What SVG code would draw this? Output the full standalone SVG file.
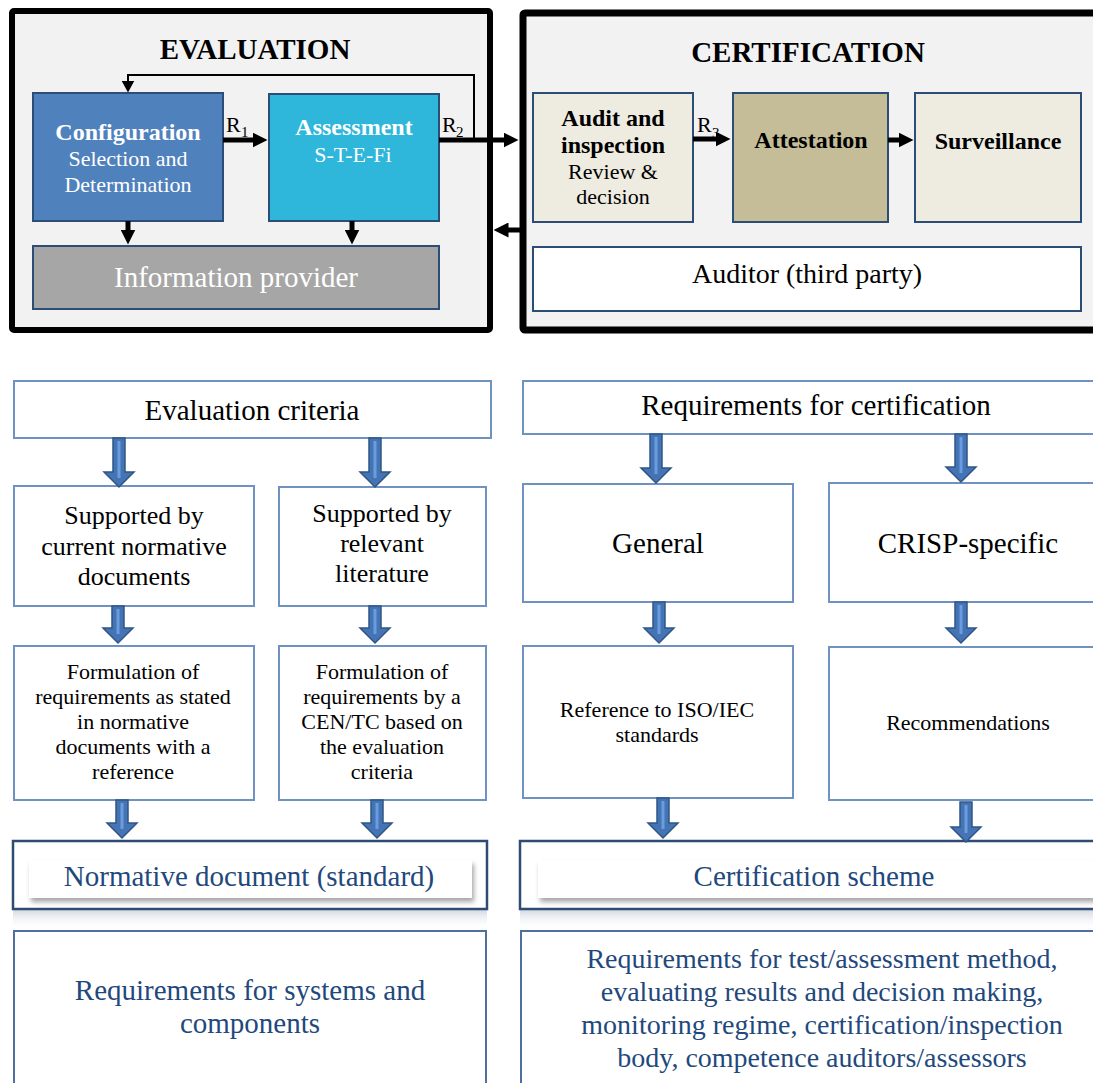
<svg xmlns="http://www.w3.org/2000/svg" width="1093" height="1083" viewBox="0 0 1093 1083">
<defs>
<style>
text{font-family:"Liberation Serif","Times New Roman",serif;text-anchor:middle}
.title{font-size:29px;font-weight:bold;fill:#000}
.bw{font-size:24px;font-weight:bold;fill:#fff}
.rw{font-size:22px;fill:#fff}
.bk{font-size:24px;font-weight:bold;fill:#000}
.rk{font-size:22px;fill:#000}
.big{font-size:29px;fill:#000}
.mid{font-size:26px;fill:#000}
.blue{font-size:29px;fill:#1f497d}
.rl{font-size:22px;fill:#000;text-anchor:start}
.sub{font-size:15px;fill:#000;text-anchor:start}
.outer{fill:#f2f2f2;stroke:#000}
.node{stroke:#2c4d75;stroke-width:2}
.lbox{fill:#fff;stroke:#7092c2;stroke-width:2}
.frame{fill:#fff;stroke:#2d4b73;stroke-width:2.5}
.panel{fill:#fff;filter:url(#sh)}
.thick{stroke:#000;stroke-width:5;fill:none}
.thin{stroke:#000;stroke-width:2;fill:none}
.barrow{fill:#4574b4;stroke:#2f5587;stroke-width:1.5}
.stripe{stroke:#6a9de0;stroke-width:3}
</style>
<marker id="ah" markerUnits="userSpaceOnUse" markerWidth="15" markerHeight="15" viewBox="0 0 15 15" refX="0.5" refY="7.5" orient="auto"><path d="M0,0 L15,7.5 L0,15 Z" fill="#000"/></marker>
<marker id="ahs" markerUnits="userSpaceOnUse" markerWidth="12" markerHeight="13" viewBox="0 0 12 13" refX="0.5" refY="6.5" orient="auto"><path d="M0,0 L12,6.5 L0,13 Z" fill="#000"/></marker>
<filter id="sh" x="-5%" y="-40%" width="110%" height="200%"><feDropShadow dx="2" dy="4" stdDeviation="2.5" flood-color="#000" flood-opacity="0.35"/></filter>
<linearGradient id="fade" x1="0" y1="0" x2="0" y2="1"><stop offset="0" stop-color="#cfd5de" stop-opacity="0.9"/><stop offset="1" stop-color="#ffffff" stop-opacity="0"/></linearGradient>
</defs>

<g id="evaluation">
<rect class="outer" x="12" y="11" width="478" height="319" stroke-width="6" rx="2"/>
<text class="title" x="255" y="59">EVALUATION</text>
</g>
<g id="certification">
<rect class="outer" x="523" y="13" width="600" height="317" stroke-width="7" rx="2"/>
<text class="title" x="808" y="62">CERTIFICATION</text>
</g>

<g id="configuration">
<rect class="node" x="33" y="93" width="190" height="128" fill="#4f81bd"/>
<text class="bw" x="128" y="140">Configuration</text>
<text class="rw" x="128" y="166">Selection and</text>
<text class="rw" x="128" y="192">Determination</text>
</g>
<g id="assessment">
<rect class="node" x="269" y="94" width="170" height="127" fill="#2eb6db"/>
<text class="bw" x="354" y="135">Assessment</text>
<text class="rw" x="353" y="162">S-T-E-Fi</text>
</g>
<g id="information-provider">
<rect class="node" x="33" y="246" width="406" height="63" fill="#a6a6a6"/>
<text class="blue" x="236" y="287" style="fill:#fff">Information provider</text>
</g>
<g id="audit">
<rect class="node" x="533" y="93" width="160" height="129" fill="#eeece1"/>
<text class="bk" x="613" y="126">Audit and</text>
<text class="bk" x="613" y="153">inspection</text>
<text class="rk" x="613" y="179">Review &amp;</text>
<text class="rk" x="613" y="204">decision</text>
</g>
<g id="attestation">
<rect class="node" x="733" y="93" width="155" height="129" fill="#c4bd97"/>
<text class="bk" x="811" y="148">Attestation</text>
</g>
<g id="surveillance">
<rect class="node" x="915" y="93" width="166" height="129" fill="#eeece1"/>
<text class="bk" x="998" y="149">Surveillance</text>
</g>
<g id="auditor">
<rect class="node" x="533" y="247" width="548" height="64" fill="#fff"/>
<text class="big" x="807" y="283" style="font-size:28px">Auditor (third party)</text>
</g>

<g id="evaluation-criteria">
<rect class="lbox" x="14" y="381" width="477" height="57"/>
<text class="big" x="252" y="420">Evaluation criteria</text>
</g>
<g id="requirements-certification">
<rect class="lbox" x="523" y="381" width="580" height="53"/>
<text class="big" x="816" y="415">Requirements for certification</text>
</g>
<g id="supported-normative">
<rect class="lbox" x="14" y="486" width="240" height="120"/>
<text class="mid" x="134" y="524">Supported by</text>
<text class="mid" x="134" y="555">current normative</text>
<text class="mid" x="134" y="585">documents</text>
</g>
<g id="supported-literature">
<rect class="lbox" x="279" y="487" width="207" height="119"/>
<text class="mid" x="382" y="522">Supported by</text>
<text class="mid" x="382" y="552">relevant</text>
<text class="mid" x="382" y="582">literature</text>
</g>
<g id="general">
<rect class="lbox" x="523" y="484" width="270" height="118"/>
<text class="big" x="658" y="553">General</text>
</g>
<g id="crisp-specific">
<rect class="lbox" x="829" y="483" width="280" height="119"/>
<text class="big" x="968" y="553">CRISP-specific</text>
</g>
<g id="formulation-normative">
<rect class="lbox" x="14" y="646" width="240" height="154"/>
<text class="rk" x="133" y="679">Formulation of</text>
<text class="rk" x="133" y="704">requirements as stated</text>
<text class="rk" x="133" y="729">in normative</text>
<text class="rk" x="133" y="754">documents with a</text>
<text class="rk" x="133" y="779">reference</text>
</g>
<g id="formulation-cen">
<rect class="lbox" x="279" y="646" width="207" height="154"/>
<text class="rk" x="382" y="679">Formulation of</text>
<text class="rk" x="382" y="704">requirements by a</text>
<text class="rk" x="382" y="729">CEN/TC based on</text>
<text class="rk" x="382" y="754">the evaluation</text>
<text class="rk" x="382" y="779">criteria</text>
</g>
<g id="reference-iso">
<rect class="lbox" x="523" y="646" width="270" height="152"/>
<text class="rk" x="657" y="717">Reference to ISO/IEC</text>
<text class="rk" x="657" y="742">standards</text>
</g>
<g id="recommendations">
<rect class="lbox" x="829" y="647" width="280" height="153"/>
<text class="rk" x="968" y="730">Recommendations</text>
</g>
<g id="normative-document">
<rect x="13" y="910" width="474" height="20" fill="url(#fade)"/>
<rect class="frame" x="13" y="841" width="474" height="68"/>
<rect class="panel" x="29" y="860" width="443" height="38"/>
<text class="blue" x="249" y="886">Normative document (standard)</text>
</g>
<g id="certification-scheme">
<rect x="520" y="910" width="590" height="20" fill="url(#fade)"/>
<rect class="frame" x="520" y="841" width="590" height="68"/>
<rect class="panel" x="538" y="860" width="580" height="38"/>
<text class="blue" x="814" y="886">Certification scheme</text>
</g>
<g id="requirements-systems">
<rect class="lbox" x="14" y="931" width="472" height="170" style="stroke:#4f6f9f"/>
<text class="blue" x="250" y="1000">Requirements for systems and</text>
<text class="blue" x="250" y="1033">components</text>
</g>
<g id="requirements-test">
<rect class="lbox" x="521" y="931" width="590" height="170" style="stroke:#4f6f9f"/>
<text class="blue" x="822" y="968" style="font-size:28px">Requirements for test/assessment method,</text>
<text class="blue" x="822" y="1001" style="font-size:28px">evaluating results and decision making,</text>
<text class="blue" x="822" y="1034" style="font-size:28px">monitoring regime, certification/inspection</text>
<text class="blue" x="822" y="1067" style="font-size:28px">body, competence auditors/assessors</text>
</g>

<g id="connectors">
<line class="thick" x1="223" y1="140" x2="253" y2="140" marker-end="url(#ah)"/>
<text class="rl" x="226" y="132">R</text><text class="sub" x="241" y="137">1</text>
<line class="thick" x1="439" y1="140" x2="504" y2="140" marker-end="url(#ah)"/>
<text class="rl" x="442" y="132">R</text><text class="sub" x="456" y="137">2</text>
<polyline class="thin" points="474,140 474,75 128,75 128,81" marker-end="url(#ahs)"/>
<line class="thick" x1="128" y1="221" x2="128" y2="230" marker-end="url(#ah)"/>
<line class="thick" x1="352" y1="221" x2="352" y2="230" marker-end="url(#ah)"/>
<line class="thick" x1="521" y1="230" x2="508" y2="230" marker-end="url(#ah)"/>
<line class="thick" x1="693" y1="139" x2="716" y2="139" marker-end="url(#ah)"/>
<text class="rl" x="697" y="132">R</text><text class="sub" x="712" y="138">3</text>
<line class="thick" x1="888" y1="140" x2="899" y2="140" marker-end="url(#ah)"/>

<path class="barrow" d="M113,438 H125 V472 H134 L119,487 L104,472 H113 Z"/><line class="stripe" x1="119" y1="441" x2="119" y2="478"/>
<path class="barrow" d="M369,438 H381 V472 H390 L375,487 L360,472 H369 Z"/><line class="stripe" x1="375" y1="441" x2="375" y2="478"/>
<path class="barrow" d="M650,434 H662 V468 H671 L656,483 L641,468 H650 Z"/><line class="stripe" x1="656" y1="437" x2="656" y2="474"/>
<path class="barrow" d="M955,434 H967 V467 H976 L961,482 L946,467 H955 Z"/><line class="stripe" x1="961" y1="437" x2="961" y2="473"/>
<path class="barrow" d="M112,606 H124 V628 H133 L118,643 L103,628 H112 Z"/><line class="stripe" x1="118" y1="609" x2="118" y2="634"/>
<path class="barrow" d="M369,606 H381 V628 H390 L375,643 L360,628 H369 Z"/><line class="stripe" x1="375" y1="609" x2="375" y2="634"/>
<path class="barrow" d="M653,602 H665 V628 H674 L659,643 L644,628 H653 Z"/><line class="stripe" x1="659" y1="605" x2="659" y2="634"/>
<path class="barrow" d="M955,602 H967 V628 H976 L961,643 L946,628 H955 Z"/><line class="stripe" x1="961" y1="605" x2="961" y2="634"/>
<path class="barrow" d="M116,800 H128 V823 H137 L122,838 L107,823 H116 Z"/><line class="stripe" x1="122" y1="803" x2="122" y2="829"/>
<path class="barrow" d="M371,800 H383 V823 H392 L377,838 L362,823 H371 Z"/><line class="stripe" x1="377" y1="803" x2="377" y2="829"/>
<path class="barrow" d="M657,798 H669 V823 H678 L663,838 L648,823 H657 Z"/><line class="stripe" x1="663" y1="801" x2="663" y2="829"/>
<path class="barrow" d="M960,802 H972 V827 H981 L966,842 L951,827 H960 Z"/><line class="stripe" x1="966" y1="805" x2="966" y2="833"/>
</g>
</svg>
